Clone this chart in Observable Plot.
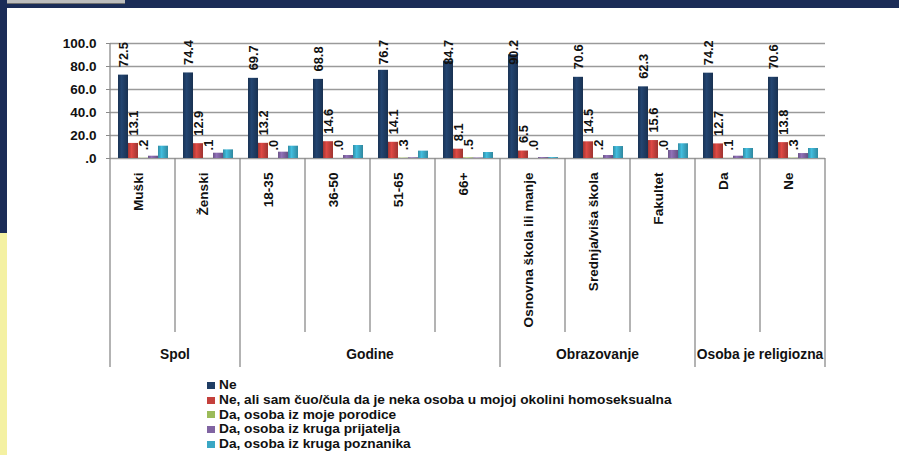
<!DOCTYPE html>
<html>
<head>
<meta charset="utf-8">
<script src="https://cdn.jsdelivr.net/npm/d3@7"></script>
<script src="https://cdn.jsdelivr.net/npm/@observablehq/plot@0.6"></script>
<style>
  html, body { margin: 0; padding: 0; background: #fff; }
  #page { position: relative; width: 899px; height: 455px; overflow: hidden; background: #fff;
          font-family: "Liberation Sans", Arial, sans-serif; }
  #topband { position: absolute; left: 0; top: 0; width: 899px; height: 8px; background: #1b2c57; }
  #greybox { position: absolute; left: 3px; top: 0; width: 122px; height: 3px; background: #bdbdbd; border-bottom: 1px solid #6f6f6f; }
  #leftnavy { position: absolute; left: 0; top: 0; width: 7px; height: 233px; background: #1b2c57; }
  #leftyellow { position: absolute; left: 0; top: 233px; width: 7px; height: 222px; background: #f4f1a2; }
  #chart { position: absolute; left: 7px; top: 8px; }
  #legend { position: absolute; left: 207px; top: 378px; font-weight: bold; font-size: 13.7px; color: #111; }
  #legend .item { height: 14.8px; line-height: 14.8px; display: flex; align-items: center; white-space: nowrap; }
  #legend .sw { width: 8px; height: 7px; margin-right: 4px; }
</style>
</head>
<body>
<div id="page">
  <div id="topband"></div>
  <div id="greybox"></div>
  <div id="leftnavy"></div>
  <div id="leftyellow"></div>
  <div id="chart"></div>
  <div id="legend"></div>
</div>
<script>
const categories = ["Muški", "Ženski", "18-35", "36-50", "51-65", "66+", "Osnovna škola ili manje", "Srednja/viša škola", "Fakultet", "Da", "Ne"];
const groupOf = ["Spol", "Spol", "Godine", "Godine", "Godine", "Godine", "Obrazovanje", "Obrazovanje", "Obrazovanje", "Osoba je religiozna", "Osoba je religiozna"];
const groupNames = ["Spol", "Godine", "Obrazovanje", "Osoba je religiozna"];
const seriesNames = [
  "Ne",
  "Ne, ali sam čuo/čula da je neka osoba u mojoj okolini homoseksualna",
  "Da, osoba iz moje porodice",
  "Da, osoba iz kruga prijatelja",
  "Da, osoba iz kruga poznanika"
];
const ne         = [72.5, 74.4, 69.7, 68.8, 76.7, 84.7, 90.2, 70.6, 62.3, 74.2, 70.6];
const neCuo      = [13.1, 12.9, 13.2, 14.6, 14.1, 8.1, 6.5, 14.5, 15.6, 12.7, 13.8];
const porodica   = [0.2, 0.1, 0.0, 0.0, 0.3, 0.5, 0.0, 0.2, 0.0, 0.1, 0.3];
const prijatelji = [2.0, 4.6, 5.5, 2.6, 0.6, 0.4, 0.8, 2.6, 7.0, 2.0, 4.3];
const poznanici  = [10.7, 7.5, 10.7, 11.3, 6.4, 5.2, 0.8, 10.4, 12.8, 8.7, 8.7];
const labelledSeries = [true, true, true, false, false];
const yTicks = [0, 20, 40, 60, 80, 100];
const colors = ["#1f3d64", "#c4403c", "#9bbb59", "#8064a2", "#3aa7c4"];

const seriesValues = [ne, neCuo, porodica, prijatelji, poznanici];
const data = categories.flatMap((c, i) => seriesNames.map((s, j) => ({
  category: c, series: s, sIndex: j, value: seriesValues[j][i]
})));
const labelData = data.filter(d => labelledSeries[d.sIndex]);
const fmt = v => v.toFixed(1).replace(/^0/, "");

const FONT = "Liberation Sans, Arial, sans-serif";
const W = 892, H = 365;

const plot = Plot.plot({
  width: W, height: H,
  marginLeft: 99, marginRight: 70, marginTop: 35, marginBottom: 215,
  style: { fontFamily: FONT, background: "transparent", color: "#111" },
  fx: { domain: categories, padding: 0, axis: null },
  x: { domain: seriesNames, axis: null, paddingInner: 0, paddingOuter: 0.6 },
  y: { domain: [0, 100], axis: null },
  color: { domain: seriesNames, range: colors },
  marks: [
    Plot.gridY(yTicks, { stroke: "#9a9a9a", strokeOpacity: 1, strokeWidth: 1.3 }),
    Plot.axisY(yTicks, {
      tickFormat: d => d === 0 ? ".0" : d.toFixed(1),
      tickSize: 4, tickPadding: 10, fontSize: 13.5, fontWeight: "bold",
      stroke: "#8a8a8a", label: null
    }),
    Plot.barY(data, { fx: "category", x: "series", y: "value", fill: "series" }),
    Plot.text(labelData, {
      fx: "category", x: "series", y: d => Math.min(d.value, 74.5),
      text: d => fmt(d.value), rotate: -90, textAnchor: "start", dy: -8,
      fontSize: 12.8, fontWeight: "bold", fill: "#111"
    }),
    Plot.text(categories, {
      fx: d => d, frameAnchor: "bottom", text: d => d, rotate: -90, textAnchor: "end",
      dy: 14, fontSize: 13.6, fontWeight: "bold", fill: "#111"
    })
  ]
});
document.getElementById("chart").appendChild(plot);

// Hierarchical x-axis decorations drawn from Plot's own fx scale
const fx = plot.scale("fx");
const bw = fx.bandwidth;
const y = plot.scale("y");
const y0 = y.apply(0), y100 = y.apply(100);
const svg = d3.select(plot);
const deco = svg.append("g").attr("stroke", "#8a8a8a").attr("stroke-width", 1.3);
const sepBottom = y0 + 174, groupBottom = y0 + 209;
const left = fx.apply(categories[0]);
const right = fx.apply(categories[categories.length - 1]) + bw;
deco.append("line").attr("x1", left).attr("x2", left).attr("y1", y100).attr("y2", groupBottom);
deco.append("line").attr("x1", right).attr("x2", right).attr("y1", y0).attr("y2", groupBottom);
for (let i = 1; i < categories.length; i++) {
  const xpos = fx.apply(categories[i]);
  const groupEdge = groupOf[i] !== groupOf[i - 1];
  deco.append("line").attr("x1", xpos).attr("x2", xpos).attr("y1", y0).attr("y2", groupEdge ? groupBottom : sepBottom);
}
groupNames.forEach(g => {
  const cats = categories.filter((c, i) => groupOf[i] === g);
  const cx = (fx.apply(cats[0]) + fx.apply(cats[cats.length - 1]) + bw) / 2;
  svg.append("text").attr("x", cx).attr("y", y0 + 197).attr("text-anchor", "middle")
    .attr("dominant-baseline", "middle")
    .attr("font-family", FONT).attr("font-size", 13.8).attr("font-weight", "bold").attr("fill", "#111").text(g);
});

// Cylinder-like shading for the bars
const defs = svg.insert("defs", ":first-child");
colors.forEach((c, i) => {
  const base = d3.color(c);
  const g = defs.append("linearGradient").attr("id", "grad" + i).attr("x1", 0).attr("x2", 1).attr("y1", 0).attr("y2", 0);
  g.append("stop").attr("offset", "0%").attr("stop-color", base.darker(0.5));
  g.append("stop").attr("offset", "35%").attr("stop-color", base.brighter(0.35));
  g.append("stop").attr("offset", "100%").attr("stop-color", base.darker(0.6));
});
svg.selectAll("rect").each(function () {
  const f = (this.getAttribute("fill") || "").toLowerCase();
  const i = colors.indexOf(f);
  if (i >= 0) this.setAttribute("fill", `url(#grad${i})`);
});

// Legend
const legend = d3.select("#legend");
seriesNames.forEach((s, i) => {
  const item = legend.append("div").attr("class", "item");
  item.append("div").attr("class", "sw").style("background", colors[i]);
  item.append("span").text(s);
});
</script>
</body>
</html>
